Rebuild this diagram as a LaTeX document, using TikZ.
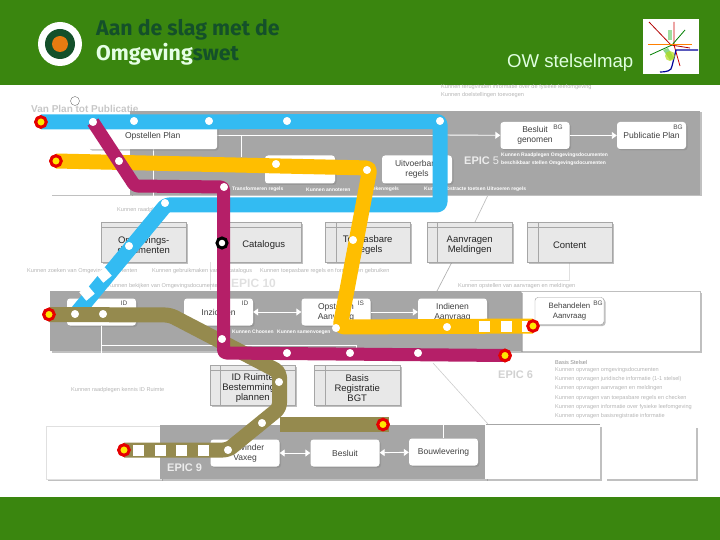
\documentclass[tikz,border=0pt]{standalone}
\usepackage{fontspec}
\setmainfont{Liberation Sans}
\newfontfamily\titelfont{Fira Sans}
\usetikzlibrary{shadows,arrows.meta}

\definecolor{kopgroen}{HTML}{3A860F}
\definecolor{donkergroen}{HTML}{14502A}
\definecolor{oranje}{HTML}{E77B11}
\definecolor{paneel}{HTML}{A6A6A6}
\definecolor{blauw}{HTML}{33BBF2}
\definecolor{geel}{HTML}{FFBE00}
\definecolor{paars}{HTML}{B51F68}
\definecolor{olijf}{HTML}{958A4E}
\definecolor{stapel}{HTML}{E8E8E8}
\definecolor{vaag}{HTML}{B4B4B4}

\tikzset{
    schaduw/.style={drop shadow={shadow xshift=1.5pt, shadow yshift=-1.5pt, fill=black!45, opacity=0.55}},
    panel/.style={fill=paneel, schaduw},
    witvlak/.style={fill=white, schaduw},
    taak/.style={fill=white, rounded corners=3pt, schaduw, minimum width=69pt, minimum height=27pt, inner sep=0pt, align=center, font=\fontsize{8.5}{10}\selectfont, text=black!75},
    bron/.style={fill=stapel, draw=black!35, line width=0.4pt, schaduw, minimum width=85pt, minimum height=40pt, inner sep=0pt, anchor=north west},
    bronlabel/.style={align=center, inner sep=0pt, yshift=-3pt, font=\fontsize{9.5}{9.8}\selectfont, text=black!85},
    halte/.style={circle, fill=white, draw=white, minimum size=7.5pt, inner sep=0pt},
    eindhalte/.style={circle, fill=yellow!90!orange, draw=red!90!black, line width=3pt, minimum size=10.5pt, inner sep=0pt},
    blokje/.style={fill=white, minimum size=11pt, inner sep=0pt},
    lijn/.style={line width=#1, line join=round},
    pijl/.style={white, line width=0.9pt, -{Triangle[width=7pt,length=5pt]}},
    dubbelpijl/.style={white, line width=0.9pt, {Triangle[width=7pt,length=5pt]}-{Triangle[width=7pt,length=5pt]}},
    klein/.style={font=\fontsize{5}{6}\bfseries\selectfont, text=white, inner sep=0pt, anchor=west},
    grijstekst/.style={font=\fontsize{5.6}{6.5}\selectfont, text=vaag, inner sep=0pt, anchor=west},
    epic/.style={font=\fontsize{11}{12}\bfseries\selectfont, inner sep=0pt, anchor=west},
    code/.style={font=\fontsize{6.5}{8}\selectfont, text=black!70, inner sep=0pt},
    streep/.style={black!35, line width=0.4pt},
}

\begin{document}
\begin{tikzpicture}[x=1pt, y=-1pt]
    \useasboundingbox (0,0) rectangle (720,540);

    % --- Kop en voet ---
    \fill[kopgroen] (0,0) rectangle (720,85);
    \fill[kopgroen] (0,497) rectangle (720,540);
    \node[circle, fill=white, minimum size=44pt, inner sep=0pt] (logo) at (60,44) {};
    \node[circle, fill=donkergroen, minimum size=30pt, inner sep=0pt] (logorand) at (logo) {};
    \node[circle, fill=oranje, minimum size=16pt, inner sep=0pt] (logokern) at (logo) {};
    \node[anchor=west, inner sep=0pt, text=donkergroen] (titel) at (96,30)
        {\titelfont\fontsize{21.3}{24}\fontseries{sb}\selectfont Aan de slag met de};
    \node[anchor=west, inner sep=0pt] (titel2) at (96,54)
        {\titelfont\fontsize{21.3}{24}\fontseries{sb}\selectfont\textcolor{white!90!green}{Omgeving}\textcolor{donkergroen}{swet}};
    \node[anchor=west, inner sep=0pt, text=white!88!green, font=\fontsize{18.6}{20}\selectfont] (stelselmap) at (507,63) {OW stelselmap};

    % --- Kaartje rechtsboven ---
    \fill[white] (643,19) rectangle (699,74);
    \draw[red!70!black, line width=0.8pt] (649,22) -- (671,45) -- (690,48);
    \draw[red!80!black, line width=0.8pt] (674,22) -- (674,45) -- (680,66);
    \draw[green!50!black, line width=0.8pt] (685,30) -- (672,45) -- (650,55);
    \draw[blue!60!black, line width=1.2pt] (660,72) to[out=0, in=270] (672,66) -- (676,50) -- (698,50);
    \draw[orange, line width=0.8pt] (648,44) -- (692,44);
    \fill[green!50!gray, opacity=0.6] (663,50) -- (668,48) -- (674,58) -- (670,60) -- cycle;
    \fill[yellow!70!green, opacity=0.7] (670,56) circle (5);
    \fill[green!50!gray, opacity=0.5] (668,30) rectangle (672,40);

    % --- Tekst bovenaan ---
    \node[grijstekst] (boven1) at (441,87) {Kunnen terugvinden informatie over de fysieke leefomgeving};
    \node[grijstekst] (boven2) at (441,95) {Kunnen doelstellingen toevoegen};
    \node[inner sep=0pt, anchor=west, text=black!22, font=\fontsize{10}{12}\bfseries\selectfont] (vanplan) at (31,109) {Van Plan tot Publicatie};
    \node[circle, draw=black!55, fill=white, line width=0.4pt, minimum size=9pt, inner sep=0pt] (cirkel) at (75,101) {};

    % --- Paneel EPIC 5 ---
    \path[witvlak] (50,113) rectangle (131,195);
    \path[panel] (130,111) rectangle (700,195);
    \draw[white, line width=0.8pt] (217,135) -- (440,135);
    \draw[white, line width=0.8pt] (241,135) -- (241,157);
    \draw[white, line width=0.8pt] (153,149) -- (153,197);
    \node[taak, minimum width=129pt, minimum height=26pt, anchor=north west] (opstellen) at (88,123) {Opstellen Plan};
    \node[taak, minimum width=70pt, minimum height=28pt] (regels) at (300,169.5) {};
    \node[taak, minimum width=70pt, minimum height=28pt] (uitvoer) at (417,169.5) {Uitvoerbare\\regels};
    \node[taak] (besluit) at (535,135.5) {Besluit\\genomen};
    \node[taak] (publicatie) at (651.5,135.5) {Publicatie Plan};
    \node[code] (bg1) at (558,127) {BG};
    \node[code] (bg2) at (678,127) {BG};
    \coordinate (start) at (440,135);
    \draw[pijl] (start) -- (besluit);
    \draw[pijl] (besluit) -- (publicatie);
    \node[epic, text=white!85!gray] (epic5) at (464,161) {EPIC \textmd{5}};
    \node[klein] (k1) at (501,155) {Kunnen Raadplegen Omgevingsdocumenten};
    \node[klein] (k2) at (501,163) {beschikbaar stellen Omgevingsdocumenten};
    \node[klein] (k3) at (232,189.5) {Transformeren regels};
    \node[klein] (k4) at (306,189.5) {Kunnen annoteren};
    \node[klein] (k5) at (371,189.5) {tekenregels};
    \node[klein] (k6) at (424,189.5) {Kunnen abstracte toetsen Uitvoeren regels};

    % --- Verbindingslijnen ---
    \draw[black!25, line width=0.7pt] (488,195) -- (475,222);
    \draw[black!30, line width=0.7pt] (452,262) -- (437,291);
    \draw[black!20, line width=0.6pt] (433,363) -- (488,424);
    \draw[black!12, line width=0.6pt] (210,262) -- (210,290);
    \draw[black!12, line width=0.6pt] (569,262) -- (569,280) -- (470,280);

    % --- Stapels in het midden ---
    \node[bron, label={[bronlabel]center:{Omgevings-\\documenten}}] (omgdoc) at (101,222) {};
    \node[bron, minimum width=75pt, label={[bronlabel]center:{Catalogus}}] (catalogus) at (226,222) {};
    \node[bron, label={[bronlabel]center:{Toepasbare\\Regels}}] (toepasbaar) at (325,222) {};
    \node[bron, label={[bronlabel]center:{Aanvragen\\Meldingen}}] (aanvragen) at (427,222) {};
    \node[bron, label={[bronlabel]center:{Content}}] (content) at (527,222) {};
    \draw[streep] (omgdoc.north west)+(0,5) -- ++(85,5);
    \draw[streep] (catalogus.north west)+(0,5) -- ++(75,5);
    \draw[streep] (toepasbaar.north west)+(0,5) -- ++(85,5);
    \draw[streep] (aanvragen.north west)+(0,5) -- ++(85,5);
    \draw[streep] (content.north west)+(0,5) -- ++(85,5);
    \draw[streep] (toepasbaar.north west)+(11,0) -- ++(11,40);
    \draw[streep] (aanvragen.north west)+(10,0) -- ++(10,40);
    \draw[streep] (content.north west)+(11,0) -- ++(11,40);
    \node[grijstekst] (g1) at (117,210.5) {Kunnen raadplegen};
    \node[grijstekst] (g2) at (27,271) {Kunnen zoeken van Omgevingsdocumenten};
    \node[grijstekst] (g3) at (152,271) {Kunnen gebruikmaken van de catalogus};
    \node[grijstekst] (g4) at (260,271) {Kunnen toepasbare regels en formulieren gebruiken};
    \node[grijstekst] (g5) at (108,286) {Kunnen bekijken van Omgevingsdocumenten};
    \node[grijstekst] (g6) at (458,286) {Kunnen opstellen van aanvragen en meldingen};
    \node[epic, text=black!12, font=\fontsize{12}{14}\bfseries\selectfont] (epic10) at (231,283) {EPIC 10};

    % --- Paneel EPIC 10 ---
    \path[witvlak, draw=black!25, line width=0.4pt] (521,291) rectangle (700,351);
    \path[panel] (50,291) rectangle (521,351);
    \node[taak] (id) at (101.5,312) {};
    \node[code] (idcode) at (124,303) {ID};
    \node[taak] (inzicht) at (218.5,312) {Inzichten};
    \node[code] (inzichtcode) at (245,303) {ID};
    \node[taak] (opstaanvraag) at (336,312) {Opstellen\\Aanvraag};
    \node[code] (opstcode) at (361,303) {IS};
    \node[taak] (indienen) at (452.5,312) {Indienen\\Aanvraag};
    \node[taak, draw=black!40, line width=0.4pt, font=\fontsize{7.8}{10}\selectfont] (behandelen) at (569.5,311) {Behandelen\\Aanvraag};
    \node[code] (bg3) at (598,303) {BG};
    \draw[dubbelpijl] (inzicht) -- (opstaanvraag);
    \draw[pijl] (opstaanvraag) -- (indienen);
    \draw[white, line width=0.8pt] (101,326) -- (101,372);
    \draw[white, line width=0.8pt] (101,345.5) -- (356,345.5) -- (356,352);
    \node[klein] (k7) at (232,332) {Kunnen Choosen};
    \node[klein] (k8) at (277,332) {Kunnen samenvoegen};

    % --- Stapels onder ---
    \node[bron, label={[bronlabel]center:{ID Ruimte\\Bestemmings-\\plannen}}] (ruimte) at (210,365) {};
    \node[bron, minimum width=86pt, label={[bronlabel]center:{Basis\\Registratie\\BGT}}] (basis) at (314,365) {};
    \draw[streep] (ruimte.north west)+(0,5) -- ++(85,5);
    \draw[streep] (basis.north west)+(0,5) -- ++(86,5);
    \draw[streep] (ruimte.north west)+(10,0) -- ++(10,40);
    \draw[streep] (basis.north west)+(11,0) -- ++(11,40);
    \node[grijstekst] (g7) at (71,390.5) {Kunnen raadplegen kennis ID Ruimte};
    \node[epic, text=black!18] (epic6) at (498,375) {EPIC 6};
    \node[grijstekst, text=black!45] (s0) at (555,362.5) {Basis Stelsel};
    \node[grijstekst] (s1) at (555,370.5) {Kunnen opvragen omgevingsdocumenten};
    \node[grijstekst] (s2) at (555,379.5) {Kunnen opvragen juridische informatie (1-1 stelsel)};
    \node[grijstekst] (s3) at (555,388.5) {Kunnen opvragen aanvragen en meldingen};
    \node[grijstekst] (s4) at (555,398) {Kunnen opvragen van toepasbare regels en checken};
    \node[grijstekst] (s5) at (555,407) {Kunnen opvragen informatie over fysieke leefomgeving};
    \node[grijstekst] (s6) at (555,416) {Kunnen opvragen basisregistratie informatie};

    % --- Paneel EPIC 9 ---
    \path[witvlak, draw=black!12] (46,426) rectangle (161,479);
    \path[panel] (160,425) rectangle (486,479);
    \path[witvlak] (485,425) rectangle (600,479);
    \path[witvlak] (605,426) rectangle (696,479);
    \draw[black!35, line width=0.5pt] (486,424.5) -- (600,424.5);
    \node[taak] (aanvinder) at (245,453) {Aanvinder\\Vaxeg};
    \node[taak] (bslt) at (345,453) {Besluit};
    \node[taak] (bouw) at (443.5,452) {Bouwlevering};
    \draw[dubbelpijl] (aanvinder) -- (bslt);
    \draw[dubbelpijl] (bslt) -- (bouw);
    \draw[white, line width=0.8pt] (bouw.north) -- (443.5,425);
    \node[epic, text=white!85!gray] (epic9) at (167,468) {EPIC 9};

    % --- Blauwe lijn ---
    \node[eindhalte] (b0) at (41,122) {};
    \coordinate (bhoek1) at (440,121.5);
    \coordinate (bhoek2) at (440,205);
    \coordinate (bhoek3) at (166,205);
    \coordinate (bvoet) at (75,315);
    \draw[blauw, lijn=15pt, rounded corners=3pt] (b0.center) -- (bhoek1) -- (bhoek2) -- (bhoek3) -- (bvoet);
    \node[blokje, rotate=-50] (bb1) at (87,293) {};
    \node[blokje, rotate=-50] (bb2) at (104,275) {};
    \node[eindhalte] at (b0) {};
    \node[halte] (b2) at (134,121) {};
    \node[halte] (b3) at (209,121) {};
    \node[halte] (b4) at (287,121) {};
    \node[halte] (b5) at (440,121) {};
    \node[halte] (b6) at (165,203) {};
    \node[halte] (b7) at (129,246) {};

    % --- Gele lijn ---
    \node[eindhalte] (g0) at (56,161) {};
    \coordinate (ghoek1) at (370,168);
    \coordinate (ghoek2) at (340,327);
    \coordinate (geinde) at (533,326);
    \draw[geel, lijn=15pt, rounded corners=4pt] (g0.center) -- (ghoek1) -- (ghoek2) -- (geinde);
    \node[blokje] (gb1) at (484,326) {};
    \node[blokje] (gb2) at (506,326) {};
    \node[blokje] (gb3) at (527,326) {};
    \node[eindhalte] at (g0) {};
    \node[eindhalte] (g9) at (geinde) {};
    \node[halte] (g2) at (276,164) {};
    \node[halte] (g3) at (367,170) {};
    \node[halte] (g4) at (353,240) {};
    \node[halte] (g5) at (336,328) {};
    \node[halte] (g6) at (447,327) {};

    % --- Olijfkleurige lijn ---
    \node[eindhalte] (o0) at (49,314.5) {};
    \node[eindhalte] (o1) at (124,450) {};
    \node[eindhalte] (o2) at (383,424.5) {};
    \coordinate (ohoek1) at (170,315);
    \coordinate (ohoek2) at (279.5,372);
    \coordinate (ohoek3) at (279.5,408);
    \coordinate (ohoek4) at (228,450);
    \coordinate (otak) at (279.5,424.5);
    \coordinate (otakeind) at (389,424.5);
    \draw[olijf, lijn=15pt, rounded corners=5pt] (o0.center) -- (ohoek1) -- (ohoek2) -- (ohoek3) -- (ohoek4) -- (o1.center);
    \draw[olijf, lijn=15pt] (otak) -- (otakeind);
    \node[blokje] (ob1) at (138,450) {};
    \node[blokje] (ob2) at (160,450) {};
    \node[blokje] (ob3) at (181,450) {};
    \node[blokje] (ob4) at (203,450) {};
    \node[eindhalte] at (o0) {};
    \node[eindhalte] at (o1) {};
    \node[eindhalte] at (o2) {};
    \node[halte] (o3) at (75,314) {};
    \node[halte] (o4) at (103,314) {};
    \node[halte] (o5) at (279,382) {};
    \node[halte] (o6) at (262,423) {};
    \node[halte] (o7) at (228,450) {};

    % --- Paarse lijn ---
    \node[halte] (p0) at (93,122) {};
    \coordinate (phoek1) at (135,186);
    \coordinate (phoek2) at (223.5,187);
    \coordinate (phoek3) at (223.5,353);
    \node[eindhalte] (p9) at (505,355.5) {};
    \draw[paars, lijn=13pt, rounded corners=3pt] (p0.center) -- (phoek1) -- (phoek2) -- (phoek3) -- (p9.center);
    \node[halte] at (p0) {};
    \node[eindhalte] at (p9) {};
    \node[halte] (p1) at (119,161) {};
    \node[halte] (p2) at (224,187) {};
    \node[circle, fill=white, draw=black, line width=3pt, minimum size=10pt, inner sep=0pt] (p3) at (222,243) {};
    \node[halte] (p4) at (222,339) {};
    \node[halte] (p5) at (287,353) {};
    \node[halte] (p6) at (350,353) {};
    \node[halte] (p7) at (418,353) {};
\end{tikzpicture}
\end{document}
